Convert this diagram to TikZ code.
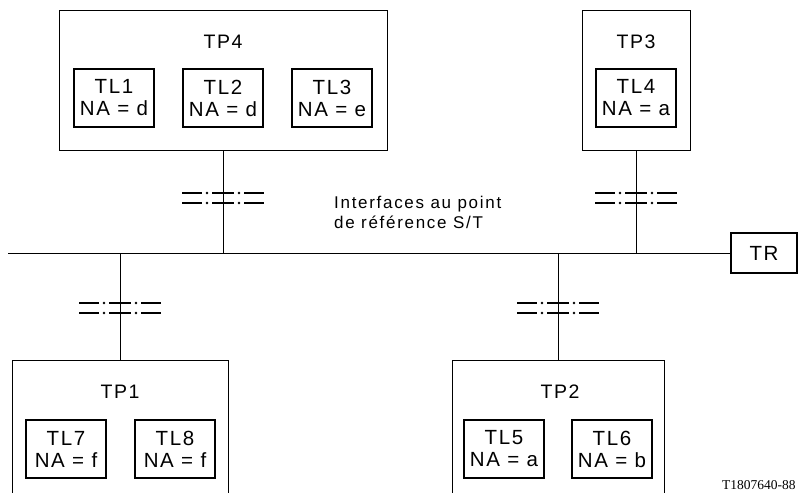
\documentclass[tikz,border=0pt]{standalone}
\usepackage{fontspec}
\setmainfont{Liberation Sans}
\newfontfamily\spacedfont{Liberation Sans}[LetterSpace=8]
\newfontfamily\widefont{Liberation Sans}[LetterSpace=10]
\newfontfamily\codefont{Liberation Serif}
\begin{document}
\begin{tikzpicture}[x=1pt,y=-1pt,
  outerbox/.style={draw, line width=0.8pt, inner sep=0pt, minimum width=#1},
  tlbox/.style={draw, line width=1.6pt, inner sep=0pt, minimum width=80pt, minimum height=58pt,
    align=center, font=\spacedfont\fontsize{20.5}{22}\selectfont},
  tplabel/.style={font=\spacedfont\fontsize{19.5}{21}\selectfont, inner sep=0pt},
  wire/.style={line width=0.8pt},
  iface/.pic={
    \foreach \yy in {-5,5}{
      \draw[line width=1.8pt] (-41,\yy) -- (-21,\yy);
      \draw[line width=1.8pt] (-11,\yy) -- (11,\yy);
      \draw[line width=1.8pt] (21,\yy) -- (41,\yy);
      \fill (-16,\yy) circle (1.3);
      \fill (16,\yy) circle (1.3);
    }
  }]
\useasboundingbox (0,0) rectangle (799,492);

% terminal equipment boxes
\node[outerbox=328pt, minimum height=140pt] (tp4) at (223,80) {};
\node[outerbox=108pt, minimum height=140pt] (tp3) at (636,80) {};
\node[outerbox=216pt, minimum height=160pt] (tp1) at (120,440) {};
\node[outerbox=212pt, minimum height=160pt] (tp2) at (558,440) {};

\node[tplabel] (ltp4) at (223,42) {TP4};
\node[tplabel] (ltp3) at (636,42) {TP3};
\node[tplabel] (ltp1) at (120,392) {TP1};
\node[tplabel] (ltp2) at (560,392) {TP2};

% terminal links
\node[tlbox] (tl1) at (114,98) {TL1\\NA = d};
\node[tlbox] (tl2) at (223,98) {TL2\\NA = d};
\node[tlbox] (tl3) at (332,98) {TL3\\NA = e};
\node[tlbox] (tl4) at (636,98) {TL4\\NA = a};
\node[tlbox] (tl7) at (66,449) {TL7\\NA = f};
\node[tlbox] (tl8) at (175,449) {TL8\\NA = f};
\node[tlbox] (tl5) at (504,449) {TL5\\NA = a};
\node[tlbox] (tl6) at (612,449) {TL6\\NA = b};

% network termination and bus
\node[draw, line width=1.2pt, minimum width=66pt, minimum height=40pt, inner sep=0pt,
  font=\spacedfont\fontsize{20.5}{22}\selectfont] (tr) at (764,253) {TR};
\coordinate (busL) at (8,253);
\draw[wire] (busL) -- (tr.west);

\coordinate (j4) at (tp4.south |- busL);
\coordinate (j3) at (tp3.south |- busL);
\coordinate (j1) at (tp1.north |- busL);
\coordinate (j2) at (tp2.north |- busL);
\draw[wire] (tp4.south) -- (j4);
\draw[wire] (tp3.south) -- (j3);
\draw[wire] (j1) -- (tp1.north);
\draw[wire] (j2) -- (tp2.north);

% S/T reference point interfaces
\pic at (tp4.south |- 0,198) {iface};
\pic at (tp3.south |- 0,198) {iface};
\pic at (tp1.north |- 0,308) {iface};
\pic at (tp2.north |- 0,308) {iface};

\node[anchor=west, align=left, inner sep=0pt,
  font=\widefont\fontsize{17}{19.5}\selectfont] (note) at (334,212.5)
  {Interfaces au point\\de référence S/T};

\node[anchor=west, inner sep=0pt, font=\codefont\fontsize{13.5}{13.5}\selectfont] (code) at (722,485) {T1807640-88};
\end{tikzpicture}
\end{document}
